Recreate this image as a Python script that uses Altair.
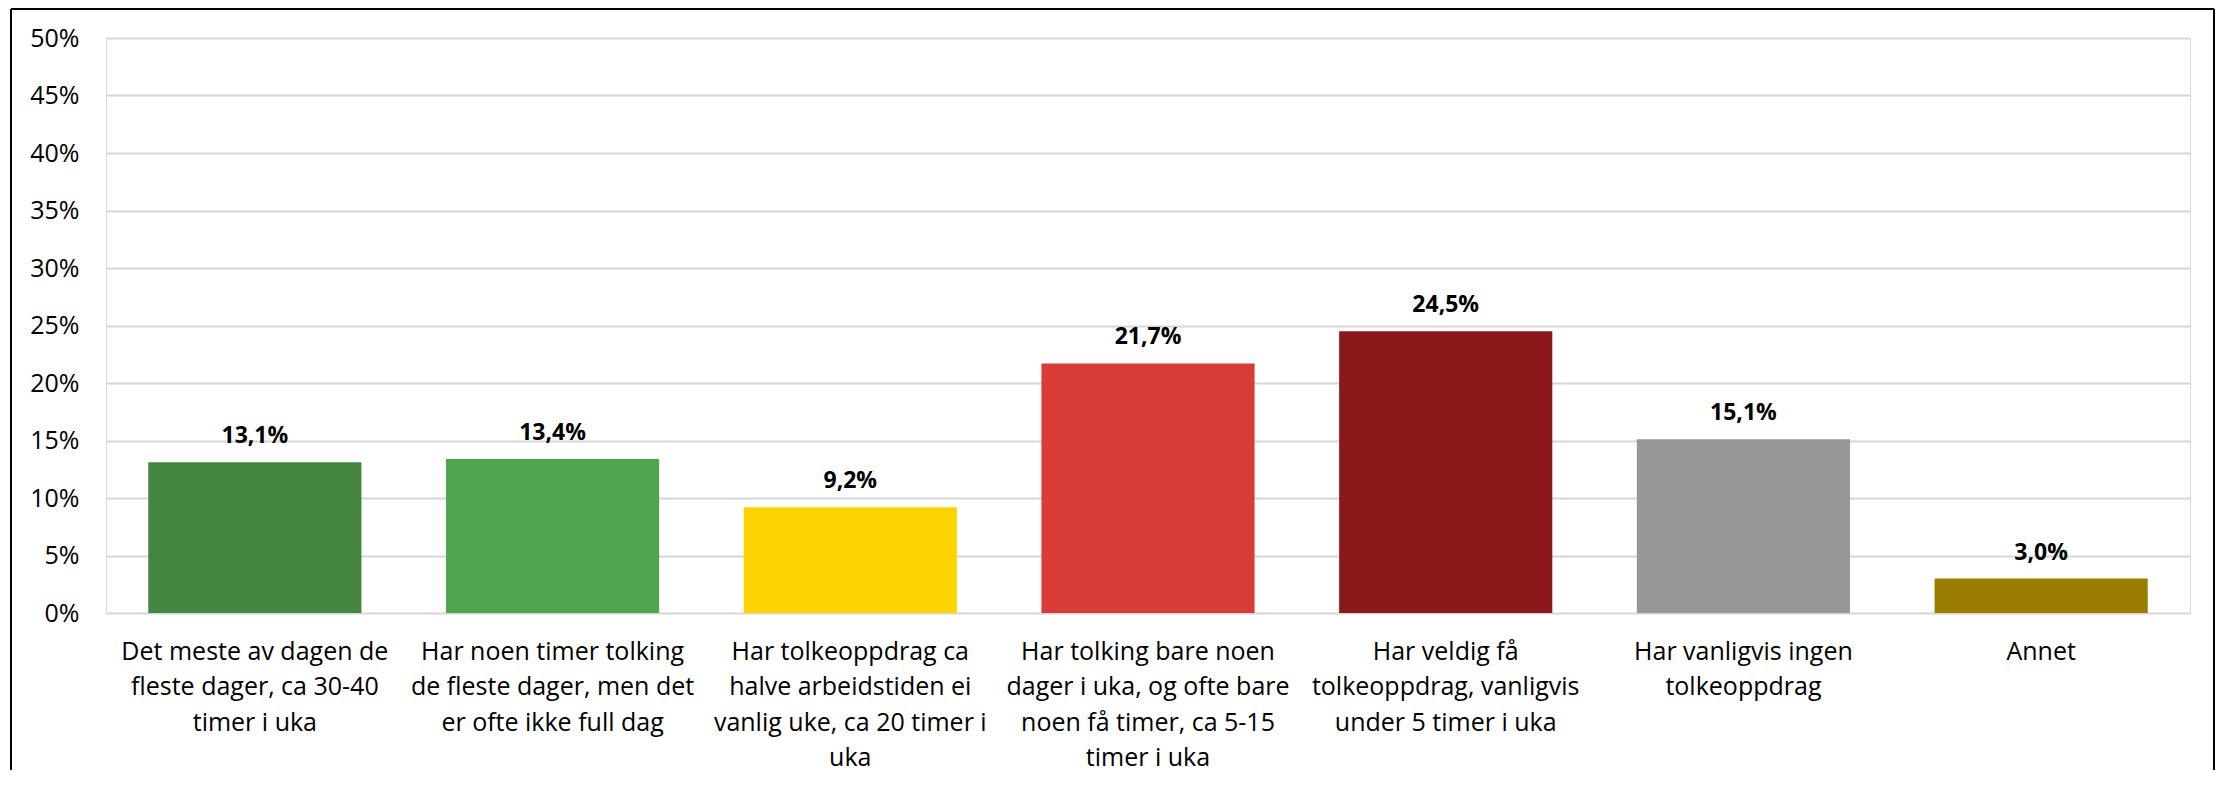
import altair as alt
import pandas as pd

categories = [
    "Det meste av dagen de\nfleste dager, ca 30-40\ntimer i uka",
    "Har noen timer tolking\nde fleste dager, men det\ner ofte ikke full dag",
    "Har tolkeoppdrag ca\nhalve arbeidstiden ei\nvanlig uke, ca 20 timer i\nuka",
    "Har tolking bare noen\ndager i uka, og ofte bare\nnoen få timer, ca 5-15\ntimer i uka",
    "Har veldig få\ntolkeoppdrag, vanligvis\nunder 5 timer i uka",
    "Har vanligvis ingen\ntolkeoppdrag",
    "Annet",
]
values = [13.1, 13.4, 9.2, 21.7, 24.5, 15.1, 3.0]
colors = ["#43863F", "#50A54F", "#FFD300", "#D93B37", "#8B191B", "#979797", "#9A7C00"]
y_ticks = [0, 5, 10, 15, 20, 25, 30, 35, 40, 45, 50]

df = pd.DataFrame({"cat": categories, "value": values, "color": colors})
df["label"] = [f"{v:.1f}%".replace(".", ",") for v in values]

W, H = 2084, 575
FONT = "Open Sans"

x = alt.X(
    "cat:N",
    sort=categories,
    title=None,
    scale=alt.Scale(paddingInner=0.284, paddingOuter=0.142),
    axis=alt.Axis(
        labelAngle=0,
        labelExpr="split(datum.label, '\\n')",
        labelFont=FONT,
        labelFontSize=25,
        labelColor="#000000",
        labelLineHeight=35.5,
        labelPadding=26,
        labelLimit=500,
        labelBaseline="top",
        ticks=False,
        domain=False,
        grid=False,
    ),
)
y = alt.Y(
    "value:Q",
    title=None,
    scale=alt.Scale(domain=[0, 50], nice=False),
    axis=alt.Axis(
        values=y_ticks,
        labelExpr="datum.value + '%'",
        labelFont=FONT,
        labelFontSize=25,
        labelColor="#000000",
        labelPadding=27,
        ticks=False,
        domain=False,
        grid=True,
        gridColor="#D6D6D6",
        gridWidth=2,
    ),
)

base = alt.Chart(df)
bars = base.mark_bar().encode(
    x=x, y=y, color=alt.Color("color:N", scale=None, legend=None)
)
texts = base.mark_text(
    baseline="alphabetic", dy=-19, font=FONT, fontSize=23, fontWeight="bold", color="#000000"
).encode(x=alt.X("cat:N", sort=categories), y="value:Q", text="label:N")

frame_df = pd.DataFrame({"k": [0]})
frame = alt.Chart(frame_df)
left = frame.mark_rule(color="#000000", strokeWidth=2).encode(
    x=alt.value(-95), y=alt.value(-29), y2=alt.value(732)
)
top = frame.mark_rule(color="#000000", strokeWidth=2).encode(
    x=alt.value(-95), x2=alt.value(2108), y=alt.value(-29)
)
right = frame.mark_rule(color="#000000", strokeWidth=2).encode(
    x=alt.value(2108), y=alt.value(-29), y2=alt.value(732)
)

chart = (
    alt.layer(bars, texts, left, top, right)
    .properties(width=W, height=H, padding={"left": 2, "top": 0, "right": 0, "bottom": 5})
    .configure_view(stroke=None)
    .configure(background="#FFFFFF")
)

chart.save("out.html", embed_options={"renderer": "svg", "actions": False})
